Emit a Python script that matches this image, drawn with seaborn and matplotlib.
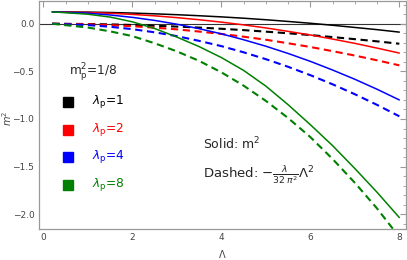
import numpy as np
import pandas as pd
import seaborn as sns
import matplotlib
matplotlib.use("Agg")
import matplotlib.pyplot as plt
from matplotlib.patches import Rectangle
from matplotlib.ticker import MultipleLocator

# ---- data ----
Lam = [0.2, 1, 1.5, 2, 2.5, 3, 3.5, 4, 4.5, 5, 5.5, 6, 6.5, 7, 7.5, 8]
solid_l1 = [0.125, 0.122, 0.118, 0.112, 0.104, 0.095, 0.084, 0.072, 0.058, 0.042, 0.024, 0.005, -0.016, -0.039, -0.062, -0.088]
solid_l2 = [0.125, 0.118, 0.110, 0.098, 0.083, 0.064, 0.042, 0.017, -0.012, -0.044, -0.080, -0.118, -0.161, -0.206, -0.256, -0.308]
solid_l4 = [0.125, 0.111, 0.092, 0.067, 0.035, -0.005, -0.052, -0.106, -0.168, -0.236, -0.312, -0.395, -0.486, -0.583, -0.688, -0.800]
solid_l8 = [0.125, 0.100, 0.070, 0.020, -0.050, -0.140, -0.240, -0.355, -0.490, -0.655, -0.850, -1.060, -1.280, -1.520, -1.770, -2.035]
dash_l1 = [0.0, -0.003, -0.007, -0.013, -0.021, -0.030, -0.040, -0.053, -0.067, -0.083, -0.100, -0.119, -0.140, -0.162, -0.185, -0.210]
dash_l2 = [0.0, -0.006, -0.015, -0.026, -0.041, -0.059, -0.082, -0.107, -0.136, -0.168, -0.205, -0.244, -0.288, -0.334, -0.384, -0.437]
dash_l4 = [0.0, -0.014, -0.032, -0.057, -0.090, -0.130, -0.180, -0.235, -0.300, -0.372, -0.452, -0.540, -0.636, -0.740, -0.852, -0.972]
dash_l8 = [0.0, -0.040, -0.080, -0.130, -0.205, -0.290, -0.390, -0.510, -0.650, -0.810, -0.990, -1.190, -1.420, -1.670, -1.940, -2.240]
lambdas = ["1", "2", "4", "8"]
colors = ["#000000", "#ff0000", "#0000ff", "#008000"]
x_ticks = [0, 2, 4, 6, 8]
y_ticks = [0.0, -0.5, -1.0, -1.5, -2.0]

sns.set_style("white")
plt.rcParams["font.family"] = ["DejaVu Sans"]
plt.rcParams["mathtext.fontset"] = "dejavusans"

W, H = 407, 260
fig = plt.figure(figsize=(W / 100, H / 100), dpi=100)
ax = fig.add_axes([38.5 / W, 1 - 228.5 / H, (406 - 38.5) / W, 228.0 / H])

solids = [solid_l1, solid_l2, solid_l4, solid_l8]
dashes = [dash_l1, dash_l2, dash_l4, dash_l8]
for s, d, c in zip(solids, dashes, colors):
    sns.lineplot(x=Lam, y=s, color=c, lw=1.1, ax=ax)
    sns.lineplot(x=Lam, y=d, color=c, lw=1.5, ax=ax)
    ax.lines[-1].set_linestyle((0, (3.5, 2.2)))

ax.axhline(0, color="#333333", lw=0.8, zorder=0)

ax.set_xlim(-0.11, 8.15)
ax.set_ylim(-2.15, 0.244)
ax.set_xticks(x_ticks)
ax.set_xticklabels([str(t) for t in x_ticks])
ax.set_yticks(y_ticks)
ax.set_yticklabels([f"{t:.1f}".replace("-", "\u2212") for t in y_ticks])
ax.xaxis.set_minor_locator(MultipleLocator(0.5))
ax.yaxis.set_minor_locator(MultipleLocator(0.1))
ax.tick_params(which="both", direction="in", top=True, right=True,
               color="#999999", labelcolor="#444444", labelsize=6.5, pad=3)
ax.tick_params(which="major", length=4, width=0.8)
ax.tick_params(which="minor", length=2.2, width=0.6)
for sp in ax.spines.values():
    sp.set_color("#999999")
    sp.set_linewidth(0.9)

ax.set_xlabel("\u039b", fontsize=7, color="#444444", labelpad=6)
ax.set_ylabel("$m^2$", fontsize=7, color="#444444")
ax.yaxis.set_label_coords(-0.066, 0.485)

# annotations (legend-like)
def fx(px):
    return px / W
def fy(py):
    return 1 - py / H

fig.text(fx(93), fy(72), r"$\mathregular{m_p^2}$=1/8", fontsize=8.7, ha="center", va="center")
ys = [102, 129.5, 157, 184.5]
for lab, c, yy in zip(lambdas, colors, ys):
    fig.patches.append(Rectangle((fx(63), fy(yy + 5)), 10 / W, 10 / H,
                                 transform=fig.transFigure, color=c, figure=fig))
    fig.text(fx(92), fy(yy), r"$\lambda_{\mathregular{p}}$=" + lab, fontsize=8.7,
             color=c, ha="left", va="center")

fig.text(fx(203), fy(144), r"Solid: $\mathregular{m^2}$", fontsize=9, ha="left", va="center")
fig.text(fx(203), fy(175), r"Dashed: $-\frac{\lambda}{32\,\pi^2}\Lambda^2$", fontsize=9.5,
         ha="left", va="center")

fig.savefig("out.png", dpi=100)
